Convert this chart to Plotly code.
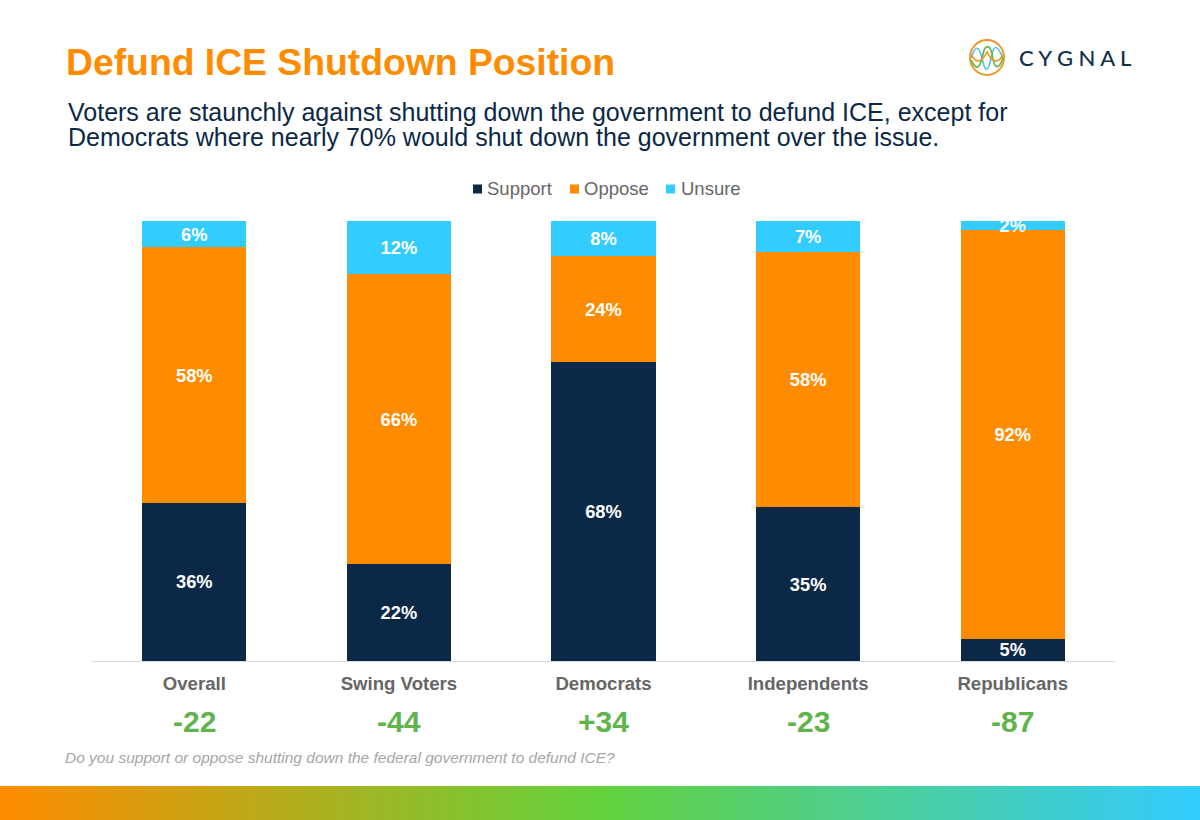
import plotly.graph_objects as go

categories = ["Overall", "Swing Voters", "Democrats", "Independents", "Republicans"]
support = [36, 22, 68, 35, 5]
oppose = [58, 66, 24, 58, 92]
unsure = [6, 12, 8, 7, 2]
net_scores = ["-22", "-44", "+34", "-23", "-87"]
legend_names = ["Support", "Oppose", "Unsure"]

NAVY = "#0b2946"
ORANGE = "#ff8c00"
BLUE = "#33ccff"
GREEN = "#5fb44e"
W, H = 1200, 820
FONT = "Liberation Sans"


def px(x):
    return x / W


def py(y):
    return 1 - y / H


def path(points):
    # points are pixel positions, first one is the start, then cubic triples
    out = f"M {px(points[0][0]):.4f} {py(points[0][1]):.4f}"
    for i in range(1, len(points), 3):
        a, b, c = points[i:i + 3]
        out += (f" C {px(a[0]):.4f} {py(a[1]):.4f} {px(b[0]):.4f} {py(b[1]):.4f}"
                f" {px(c[0]):.4f} {py(c[1]):.4f}")
    return out


fig = go.Figure()

for name, values, color in zip(legend_names, [support, oppose, unsure], [NAVY, ORANGE, BLUE]):
    fig.add_trace(go.Bar(
        x=categories,
        y=values,
        name=name,
        marker_color=color,
        marker_line_width=0,
        text=[f"{v}%" for v in values],
        textposition="inside",
        insidetextanchor="middle",
        textangle=0,
        constraintext="none",
        textfont=dict(family=FONT, size=18.3, color="white", weight="bold"),
        showlegend=False,
    ))

# gradient band along the bottom
fig.add_trace(go.Heatmap(
    z=[[0, 1, 2]],
    xaxis="x2",
    yaxis="y2",
    zsmooth="best",
    showscale=False,
    hoverinfo="skip",
    colorscale=[[0, ORANGE], [0.5, "#62d13c"], [1, BLUE]],
))

fig.update_layout(
    width=W,
    height=H,
    margin=dict(l=0, r=0, t=0, b=0),
    paper_bgcolor="white",
    plot_bgcolor="white",
    barmode="stack",
    barnorm="percent",
    bargap=0.49,
    showlegend=False,
    font=dict(family=FONT),
    xaxis=dict(
        domain=[px(92), px(1115)],
        showgrid=False,
        showline=True,
        linecolor="#d9d9d9",
        linewidth=1,
        ticks="",
        ticklabelstandoff=6,
        tickfont=dict(family=FONT, size=18.6, color="#666666", weight="bold"),
    ),
    yaxis=dict(domain=[py(661), py(221)], range=[0, 100], visible=False),
    xaxis2=dict(domain=[0, 1], anchor="y2", range=[0, 2], visible=False),
    yaxis2=dict(domain=[0, py(786)], anchor="x2", visible=False),
)

# net score row under the category names
for cat, score in zip(categories, net_scores):
    fig.add_annotation(x=cat, y=py(721), yref="paper", yanchor="middle", text=score,
                       showarrow=False,
                       font=dict(family=FONT, size=30, color=GREEN, weight="bold"))


def label(x, y, text, size, color, family=FONT, **font):
    fig.add_annotation(x=px(x), y=py(y), xref="paper", yref="paper", text=text,
                       showarrow=False, xanchor="left", yanchor="middle",
                       align="left", font=dict(family=family, size=size, color=color, **font))


label(64, 62, "Defund ICE Shutdown Position", 37.3, ORANGE, weight="bold")
label(66, 112, "Voters are staunchly against shutting down the government to defund ICE, except for",
      25, NAVY)
label(66, 137, "Democrats where nearly 70% would shut down the government over the issue.", 25, NAVY)
label(63, 757, "Do you support or oppose shutting down the federal government to defund ICE?",
      15.5, "#a6a6a6", style="italic")

# legend
for name, color, sx, tx in zip(legend_names, [NAVY, ORANGE, BLUE], [473, 570, 666], [485, 582, 679]):
    fig.add_shape(type="rect", xref="paper", yref="paper", x0=px(sx), x1=px(sx + 9),
                  y0=py(193.5), y1=py(184.5), fillcolor=color, line_width=0)
    label(tx, 188.5, name, 18.5, "#666666")

# logo
fig.add_shape(type="circle", xref="paper", yref="paper", x0=px(970), x1=px(1004),
              y0=py(75), y1=py(40), line=dict(color="#f0962a", width=2))
waves = [
    ("#4fc3ee", [(971, 58), (976, 44), (979, 46), (982, 58), (985, 72), (988, 74), (991, 58),
                 (994, 44), (997, 44), (1003, 58)]),
    ("#63b946", [(971, 60), (977, 72), (980, 68), (983, 54), (985, 44), (990, 44), (992, 54),
                 (994, 68), (998, 72), (1003, 58)]),
    ("#f0962a", [(971, 55), (978, 66), (983, 60), (987, 52), (991, 60), (997, 66), (1003, 55)]),
]
for color, points in waves:
    fig.add_shape(type="path", xref="paper", yref="paper", path=path(points),
                  line=dict(color=color, width=1.7))
label(1017, 58, "C Y G N A L", 22, "#12304a", family="Lato", weight=500)

fig.write_html("out.html", post_script="document.body.style.margin = '0';",
               config=dict(displayModeBar=False))
